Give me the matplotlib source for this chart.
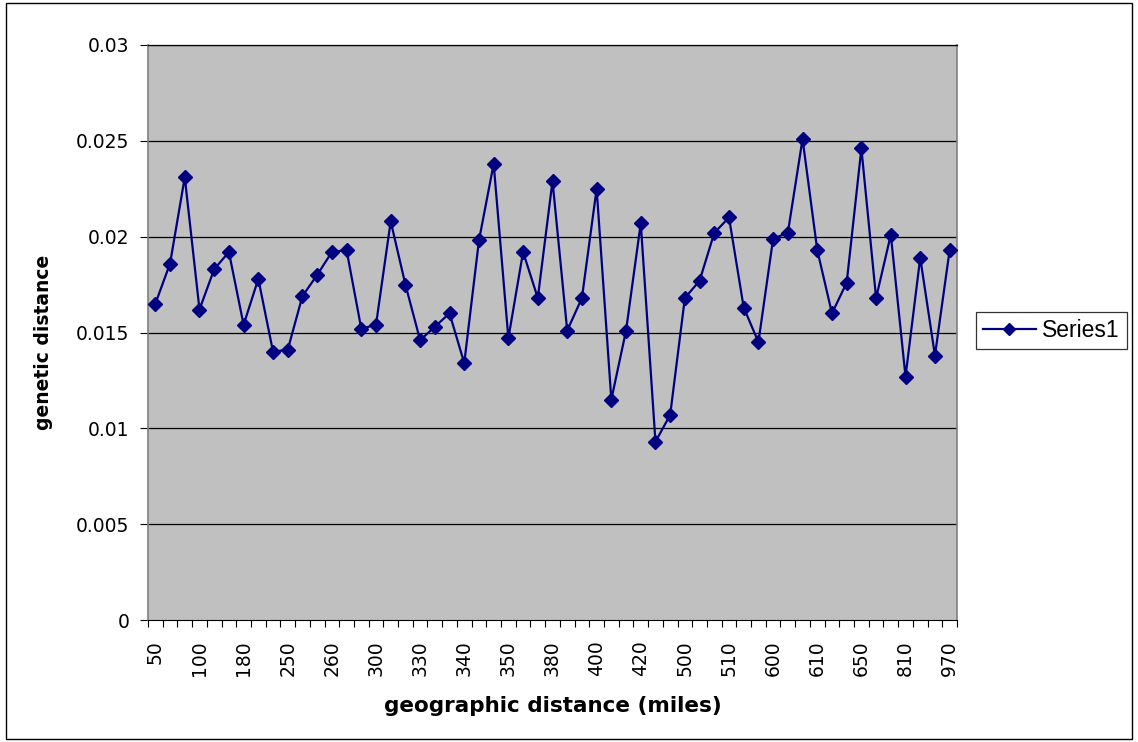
import matplotlib
matplotlib.use("Agg")
import matplotlib.pyplot as plt
from matplotlib.patches import Rectangle
from matplotlib.ticker import FixedLocator, FuncFormatter

plt.rcParams['font.family'] = ['DejaVu Sans']

# 55 categories; only every third one is labelled on the axis
tick_labels = ['50', '100', '180', '250', '260', '300', '330', '340', '350', '380',
               '400', '420', '500', '510', '600', '610', '650', '810', '970']
genetic_distance = [
    0.0165, 0.0186, 0.0231, 0.0162, 0.0183, 0.0192, 0.0154, 0.0178, 0.0140, 0.0141,
    0.0169, 0.0180, 0.0192, 0.0193, 0.0152, 0.0154, 0.0208, 0.0175, 0.0146, 0.0153,
    0.0160, 0.0134, 0.0198, 0.0238, 0.0147, 0.0192, 0.0168, 0.0229, 0.0151, 0.0168,
    0.0225, 0.0115, 0.0151, 0.0207, 0.0093, 0.0107, 0.0168, 0.0177, 0.0202, 0.0210,
    0.0163, 0.0145, 0.0199, 0.0202, 0.0251, 0.0193, 0.0160, 0.0176, 0.0246, 0.0168,
    0.0201, 0.0127, 0.0189, 0.0138, 0.0193,
]
series_name = 'Series1'

W, H = 1138, 742
fig = plt.figure(figsize=(W / 100, H / 100), dpi=100)
fig.patch.set_facecolor('white')
fig.patches.append(Rectangle((6 / W, 3 / H), (1132 - 6) / W, (739 - 3) / H,
                             transform=fig.transFigure, fill=False,
                             edgecolor='black', linewidth=1.0))

L, R, T, B = 148, 957, 45, 620
ax = fig.add_axes([L / W, 1 - B / H, (R - L) / W, (B - T) / H])
ax.set_facecolor('#C0C0C0')

n = len(genetic_distance)
xs = list(range(n))
line, = ax.plot(xs, genetic_distance, color='#000080', linewidth=1.6,
                marker='D', markersize=7.5, markerfacecolor='#000080',
                markeredgecolor='#000080', label=series_name, zorder=3)

ax.set_xlim(-0.5, n - 0.5)
ax.set_ylim(0, 0.03)
yt = [0, 0.005, 0.01, 0.015, 0.02, 0.025, 0.03]
ax.set_yticks(yt)
ax.set_yticklabels(['0', '0.005', '0.01', '0.015', '0.02', '0.025', '0.03'],
                   fontsize=13.5)
for v in yt[1:]:
    ax.axhline(v, color='black', linewidth=0.9, zorder=1)

# category boundary ticks
ax.xaxis.set_major_locator(FixedLocator([i - 0.5 for i in range(n + 1)]))
ax.xaxis.set_major_formatter(FuncFormatter(lambda v, p: ''))
label_pos = list(range(0, n, 3))
ax.xaxis.set_minor_locator(FixedLocator(label_pos))
ax.set_xticklabels(tick_labels, minor=True, rotation=90, fontsize=13.5)
ax.tick_params(axis='x', which='minor', length=0, pad=14.5)
ax.tick_params(axis='x', which='major', length=5, width=0.8, direction='out')
ax.tick_params(axis='y', length=5.5, width=0.8, direction='out', pad=8)

for s in ['left', 'right']:
    ax.spines[s].set_color('#808080')
    ax.spines[s].set_linewidth(1.2)
ax.spines['bottom'].set_color('black')
ax.spines['top'].set_color('black')
ax.spines['top'].set_linewidth(0.9)

ax.set_xlabel('geographic distance (miles)', fontsize=15.5, fontweight='bold',
              labelpad=14.5)
ax.set_ylabel('genetic distance', fontsize=13.5, fontweight='bold')
ax.yaxis.set_label_coords(-0.1174, 0.4835)

leg = fig.legend(handles=[line], labels=[series_name], loc='center left',
                 bbox_to_anchor=(976 / W, 1 - 330.5 / H),
                 prop={'family': 'Liberation Sans', 'size': 16.5},
                 frameon=True, fancybox=False, edgecolor='black',
                 handlelength=2.3, borderpad=0.3, handletextpad=0.3,
                 borderaxespad=0)
leg.get_frame().set_linewidth(0.9)
for h in leg.legend_handles:
    h.set_markersize(6.5)

fig.savefig('out.png', dpi=100)
